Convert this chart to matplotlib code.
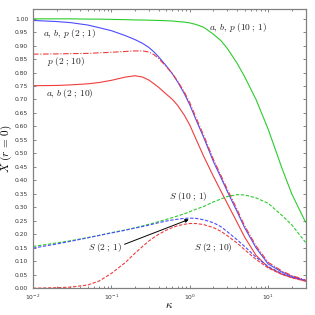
import matplotlib
matplotlib.use('Agg')
import matplotlib.pyplot as plt
from matplotlib.ticker import MultipleLocator, FormatStrFormatter, LogLocator, NullFormatter

plt.rcParams['mathtext.fontset'] = 'cm'

# kappa grid the curves were read at
kappa = [0.01, 0.02, 0.03, 0.05, 0.07, 0.1, 0.15, 0.2, 0.25, 0.3, 0.35, 0.4, 0.5, 0.6,
         0.7, 0.85, 1, 1.2, 1.5, 2, 2.5, 3, 4, 5, 7, 10, 15, 20, 30]

# a, b, p (10 ; 1)
abp_10_1 = [0.999, 0.999, 0.999, 0.998, 0.998, 0.997, 0.996, 0.995, 0.9945, 0.994, 0.9935, 0.993,
            0.992, 0.991, 0.989, 0.987, 0.984, 0.978, 0.968, 0.942, 0.918, 0.89, 0.835, 0.785,
            0.70, 0.59, 0.445, 0.35, 0.245]
# a, b, p (2 ; 1)
abp_2_1 = [0.993, 0.989, 0.985, 0.976, 0.966, 0.955, 0.937, 0.922, 0.908, 0.893, 0.876, 0.858,
           0.825, 0.795, 0.765, 0.722, 0.68, 0.625, 0.56, 0.47, 0.41, 0.36, 0.285, 0.225,
           0.15, 0.09, 0.06, 0.044, 0.028]
# p (2 ; 10)
p_2_10 = [0.868, 0.869, 0.870, 0.871, 0.873, 0.875, 0.878, 0.88, 0.88, 0.876, 0.866, 0.852,
          0.822, 0.796, 0.768, 0.728, 0.688, 0.633, 0.568, 0.478, 0.418, 0.368, 0.293, 0.232,
          0.157, 0.096, 0.064, 0.047, 0.031]
# a, b (2 ; 10)
ab_2_10 = [0.751, 0.752, 0.754, 0.758, 0.763, 0.771, 0.783, 0.788, 0.783, 0.772, 0.758, 0.745,
           0.72, 0.70, 0.678, 0.642, 0.605, 0.553, 0.49, 0.415, 0.36, 0.315, 0.245, 0.19,
           0.122, 0.078, 0.052, 0.04, 0.027]
# S (10 ; 1)
s_10_1 = [0.155, 0.168, 0.176, 0.188, 0.196, 0.206, 0.216, 0.224, 0.231, 0.237, 0.242, 0.247,
          0.255, 0.262, 0.268, 0.276, 0.284, 0.293, 0.303, 0.32, 0.331, 0.34, 0.347, 0.346,
          0.335, 0.315, 0.27, 0.235, 0.17]
# S (2 ; 1)
s_2_1 = [0.149, 0.164, 0.174, 0.187, 0.196, 0.205, 0.215, 0.223, 0.229, 0.234, 0.239, 0.243,
         0.249, 0.253, 0.256, 0.259, 0.26, 0.259, 0.254, 0.243, 0.228, 0.21, 0.18, 0.155,
         0.115, 0.08, 0.054, 0.041, 0.028]
# S (2 ; 10)
s_2_10 = [0.0, 0.002, 0.004, 0.012, 0.027, 0.055, 0.095, 0.13, 0.155, 0.175, 0.189, 0.2,
          0.215, 0.225, 0.232, 0.237, 0.24, 0.24, 0.236, 0.225, 0.211, 0.195, 0.168, 0.143,
          0.107, 0.075, 0.051, 0.039, 0.026]

red = '#f03c3c'
blue = '#4b4bff'
green = '#2ccc2c'

fig = plt.figure(figsize=(3.15, 3.15), dpi=100)
ax = fig.add_axes([0.105, 0.085, 0.865, 0.886])

lw = 0.8
ax.plot(kappa, abp_10_1, color=green, lw=lw)
ax.plot(kappa, ab_2_10, color=red, lw=lw)
ax.plot(kappa, abp_2_1, color=blue, lw=lw)
ax.plot(kappa, p_2_10, color=red, lw=lw, dashes=(5, 1.5, 1, 1.5))
ax.plot(kappa, s_10_1, color=green, lw=lw, dashes=(3, 1.5))
ax.plot(kappa, s_2_1, color=blue, lw=lw, dashes=(3, 1.5))
ax.plot(kappa, s_2_10, color=red, lw=lw, dashes=(3, 1.5))

ax.set_xscale('log')
ax.set_xlim(0.01, 30)
ax.set_ylim(0, 1.035)
ax.yaxis.set_major_locator(MultipleLocator(0.05))
ax.yaxis.set_major_formatter(FormatStrFormatter('%.2f'))
ax.xaxis.set_major_locator(LogLocator(base=10))
ax.xaxis.set_minor_locator(LogLocator(base=10, subs=range(2, 10)))
ax.xaxis.set_minor_formatter(NullFormatter())

ax.tick_params(which='both', direction='in', top=True, right=True,
               labelsize=4.3, labelcolor='#333333', color='#555555', width=0.5)
ax.tick_params(which='major', length=2.5)
ax.tick_params(which='minor', length=1.3)
for s in ax.spines.values():
    s.set_color('#808080')
    s.set_linewidth(0.9)

ax.set_xlabel(r'$\kappa$', fontsize=8)
ax.set_ylabel(r'$X\ (r\,=\,0)$', fontsize=8)
ax.xaxis.set_label_coords(0.5, -0.042)
ax.yaxis.set_label_coords(-0.07, 0.5)

fs = 6.8
tc = '#222222'
ax.text(0.0134, 0.943, r'$a,\,b,\,p\;(2\;;\,1)$', fontsize=fs, va='center', color=tc)
ax.text(0.0151, 0.84, r'$p\;(2\;;\,10)$', fontsize=fs, va='center', color=tc)
ax.text(0.0145, 0.723, r'$a,\,b\;(2\;;\,10)$', fontsize=fs, va='center', color=tc)
ax.text(1.75, 0.968, r'$a,\,b,\,p\;(10\;;\,1)$', fontsize=fs, va='center', color=tc)
ax.text(0.54, 0.34, r'$S\;(10\;;\,1)$', fontsize=fs, va='center', color=tc)
ax.text(0.05, 0.152, r'$S\;(2\;;\,1)$', fontsize=fs, va='center', color=tc)
ax.text(1.13, 0.151, r'$S\;(2\;;\,10)$', fontsize=fs, va='center', color=tc)

ax.annotate('', xy=(0.97, 0.255), xytext=(0.147, 0.163),
            arrowprops=dict(arrowstyle='-|>', color='black', lw=0.7,
                            mutation_scale=5, shrinkA=0, shrinkB=0))

fig.savefig('out.png', dpi=100)
